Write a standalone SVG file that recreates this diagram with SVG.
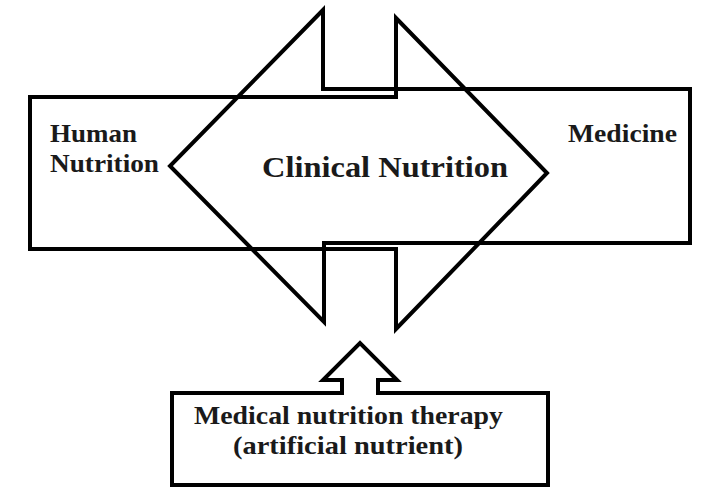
<svg xmlns="http://www.w3.org/2000/svg" width="705" height="488" viewBox="0 0 705 488">
<style>
.shape{fill:none;stroke:#000;stroke-width:4;stroke-linejoin:miter}
.t{font-family:"Liberation Serif","DejaVu Serif",serif;font-weight:bold;fill:#1a1a1a}
</style>
<rect width="705" height="488" fill="#fff"/>
<g id="connectors">
<path id="arrow-left" class="shape" d="M690,89 L323,89 L323,10 L170,166 L324,322 L324,243 L690,243 Z"/>
<path id="arrow-right" class="shape" d="M30,97 L396,97 L396,18 L547,173 L396,329 L396,249 L30,249 Z"/>
</g>
<g id="human-nutrition">
<text class="t" x="50" y="142" font-size="26" textLength="87" lengthAdjust="spacingAndGlyphs">Human</text>
<text class="t" x="50" y="172" font-size="26" textLength="109" lengthAdjust="spacingAndGlyphs">Nutrition</text>
</g>
<g id="clinical-nutrition">
<text class="t" x="262" y="177" font-size="30" textLength="246" lengthAdjust="spacingAndGlyphs">Clinical Nutrition</text>
</g>
<g id="medicine">
<text class="t" x="568" y="142" font-size="26" textLength="109" lengthAdjust="spacingAndGlyphs">Medicine</text>
</g>
<g id="medical-nutrition-therapy">
<path class="shape" d="M172,393 L342,393 L342,380 L323,380 L360,343 L397,380 L378,380 L378,393 L548,393 L548,485 L172,485 Z"/>
<text class="t" x="194" y="424" font-size="25" textLength="309" lengthAdjust="spacingAndGlyphs">Medical nutrition therapy</text>
<text class="t" x="233" y="454" font-size="25" textLength="230" lengthAdjust="spacingAndGlyphs">(artificial nutrient)</text>
</g>
</svg>
